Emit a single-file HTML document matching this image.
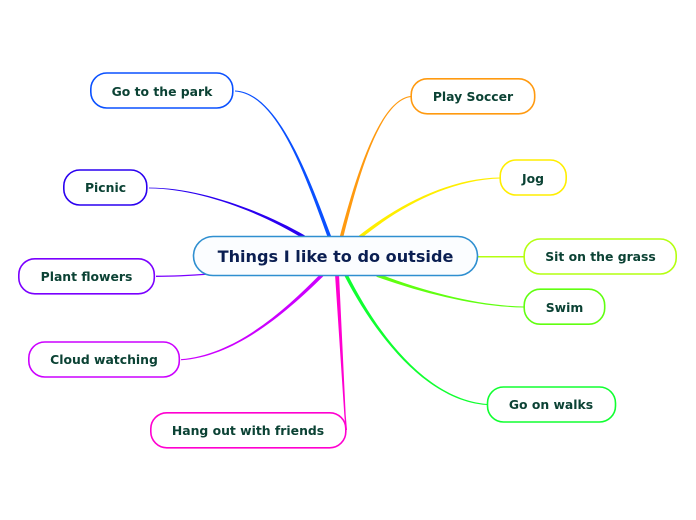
<!DOCTYPE html>
<html>
<head>
<meta charset="utf-8">
<style>
html,body{margin:0;padding:0;background:#fff;}
svg{display:block;}
text{font-family:"DejaVu Sans",sans-serif;font-weight:bold;text-anchor:middle;}
.s{font-size:12.4px;fill:#0b4234;}
.m{font-size:16.1px;fill:#0b1f52;}
rect{fill:#fff;stroke-width:1.6;}
</style>
</head>
<body>
<svg width="696" height="520" viewBox="0 0 696 520" xmlns="http://www.w3.org/2000/svg">
<!-- connectors -->
<path fill="#0a50ff" d="M235,91.55 C276,93.95 303.7,170.5 327.8,237.6 L331.2,236.4 C306.3,169.5 276,92.05 235,90.45 Z"/>
<path fill="#2a00f0" d="M149,188.4 C200,188.6 261.3,212.8 303.1,238.5 L304.9,235.5 C262.7,211.2 200,187.4 149,187.6 Z"/>
<path fill="none" stroke="#7a00ff" stroke-width="1.3" d="M156,276.3 C175,276.3 190,275.5 210,274"/>
<path fill="#cc00ff" d="M181.04,360.25 C235.06,356.95 285.95,312.95 323.3,276.3 L320.7,273.7 C284.05,311.05 234.94,355.05 180.96,359.15 Z"/>
<path fill="#ff00d0" d="M335,274 L339,274 L345.7,415 L347,430 L345.6,430 L344.3,415 Z"/>
<path fill="#ff9a10" d="M410.94,95.95 C377.9,99.05 353.7,184.7 339.8,236.5 L343.2,237.5 C356.3,185.3 378.1,100.95 411.06,97.05 Z"/>
<path fill="#ffee00" d="M500,177.45 C450,178.05 399.2,204 358.9,235.6 L361.1,238.4 C400.8,206 450,179.95 500,178.55 Z"/>
<path fill="none" stroke="#b4ff10" stroke-width="1.5" d="M477,256.7 L525,256.7"/>
<path fill="#60ff10" d="M524,306.5 C480,305.9 425.5,292.1 377.6,273.3 L376.4,276.7 C424.5,293.9 480,307.1 524,307.5 Z"/>
<path fill="#10ff30" d="M487.04,403.95 C425.07,399.05 376.2,331.4 347.6,274.2 L344.4,275.8 C373.8,332.6 424.93,400.95 486.96,405.05 Z"/>
<!-- central node -->
<rect x="193.5" y="236.5" width="284" height="39" rx="19.5" ry="19.5" style="fill:#fbfdff;stroke:#2f8fd0;stroke-width:1.6"/>
<text class="m" x="335.5" y="262">Things I like to do outside</text>
<!-- topic nodes -->
<rect x="90.8" y="73" width="142" height="35" rx="16" ry="16" stroke="#0a50ff"/>
<text class="s" x="162" y="96">Go to the park</text>
<rect x="63.8" y="170" width="83" height="35" rx="16" ry="16" stroke="#2a00f0"/>
<text class="s" x="105.5" y="192">Picnic</text>
<rect x="18.8" y="258.8" width="135.5" height="35" rx="16" ry="16" stroke="#7a00ff"/>
<text class="s" x="86.5" y="281">Plant flowers</text>
<rect x="28.8" y="342" width="150.5" height="35" rx="16" ry="16" stroke="#cc00ff"/>
<text class="s" x="104" y="364">Cloud watching</text>
<rect x="150.8" y="412.8" width="195" height="35" rx="16" ry="16" stroke="#ff00d0"/>
<text class="s" x="248" y="435">Hang out with friends</text>
<rect x="411.2" y="78.8" width="123.5" height="35" rx="16" ry="16" stroke="#ff9a10"/>
<text class="s" x="473" y="101">Play Soccer</text>
<rect x="500.2" y="160" width="66" height="35" rx="16" ry="16" stroke="#ffee00"/>
<text class="s" x="533" y="183">Jog</text>
<rect x="524.2" y="239" width="152" height="35" rx="16" ry="16" stroke="#b4ff10"/>
<text class="s" x="600.5" y="261">Sit on the grass</text>
<rect x="524.2" y="289.2" width="80.5" height="35" rx="16" ry="16" stroke="#60ff10"/>
<text class="s" x="564.5" y="312">Swim</text>
<rect x="487.5" y="387" width="128" height="35" rx="16" ry="16" stroke="#10ff30"/>
<text class="s" x="551" y="409">Go on walks</text>
</svg>
</body>
</html>
